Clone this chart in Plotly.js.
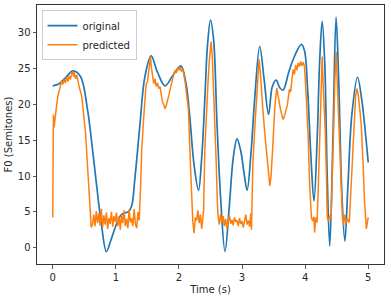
<!DOCTYPE html>
<html>
<head>
<meta charset="utf-8">
<script src="https://cdn.plot.ly/plotly-3.0.1.min.js"></script>
<style>html,body{margin:0;padding:0;background:#fff;}#chart{width:391px;height:298px;}</style>
</head>
<body>
<div id="chart"></div>
<script>
// Original F0 contour (smooth)
const originalTime = [0.00,0.10,0.20,0.32,0.44,0.55,0.63,0.70,0.77,0.85,0.92,0.99,1.06,1.12,1.20,1.25,1.30,1.38,1.46,1.56,1.66,1.78,1.90,2.03,2.11,2.17,2.24,2.31,2.36,2.41,2.45,2.50,2.55,2.60,2.66,2.73,2.80,2.86,2.92,2.98,3.03,3.08,3.14,3.20,3.28,3.35,3.42,3.48,3.54,3.60,3.65,3.74,3.83,3.94,3.99,4.04,4.09,4.14,4.19,4.23,4.27,4.31,4.35,4.39,4.44,4.49,4.53,4.58,4.63,4.68,4.74,4.83,4.90,4.95,5.00];
const originalF0 = [22.6,22.9,23.7,24.7,23.9,19.3,13.7,8.3,3.3,-0.56,1.0,2.8,4.3,4.8,5.0,5.8,9.5,17.0,23.9,26.8,24.5,22.6,24.0,25.4,23.0,18.4,11.5,8.0,12.5,20.7,28.0,31.8,29.0,18.0,7.0,-0.56,6.0,12.5,15.2,13.5,10.5,8.0,13.0,20.7,28.1,23.5,18.6,22.5,23.4,22.3,22.0,24.5,26.7,28.4,27.5,22.0,13.0,6.5,15.0,26.0,31.6,26.0,10.0,0.2,15.0,32.2,24.0,8.0,0.9,9.0,18.5,23.8,20.5,16.5,11.9];

// Predicted F0 contour (noisy)
const predictedTime = [0.00,0.01,0.02,0.03,0.04,0.06,0.08,0.10,0.12,0.14,0.16,0.18,0.20,0.22,0.24,0.26,0.28,0.30,0.32,0.33,0.34,0.36,0.38,0.40,0.42,0.44,0.46,0.49,0.52,0.55,0.57,0.60,0.61,0.63,0.65,0.67,0.69,0.71,0.73,0.75,0.77,0.79,0.81,0.83,0.85,0.87,0.89,0.91,0.93,0.95,0.97,0.99,1.01,1.03,1.05,1.07,1.09,1.11,1.13,1.15,1.17,1.19,1.21,1.23,1.25,1.27,1.29,1.31,1.33,1.35,1.37,1.39,1.41,1.44,1.46,1.48,1.50,1.52,1.54,1.55,1.56,1.58,1.60,1.62,1.64,1.66,1.68,1.70,1.72,1.74,1.76,1.78,1.80,1.82,1.84,1.86,1.88,1.90,1.92,1.94,1.96,1.98,2.00,2.02,2.04,2.06,2.08,2.10,2.12,2.15,2.18,2.20,2.22,2.24,2.26,2.28,2.30,2.32,2.34,2.36,2.38,2.39,2.41,2.43,2.46,2.48,2.50,2.51,2.53,2.55,2.57,2.59,2.61,2.62,2.64,2.66,2.68,2.70,2.72,2.74,2.76,2.78,2.80,2.82,2.84,2.86,2.88,2.90,2.92,2.94,2.96,2.98,3.00,3.02,3.04,3.06,3.08,3.10,3.12,3.14,3.15,3.17,3.20,3.23,3.25,3.27,3.29,3.31,3.33,3.36,3.39,3.42,3.44,3.46,3.49,3.52,3.55,3.57,3.59,3.61,3.63,3.65,3.67,3.70,3.72,3.75,3.77,3.79,3.81,3.83,3.85,3.87,3.89,3.91,3.93,3.95,3.97,3.99,4.01,4.02,4.05,4.07,4.10,4.12,4.14,4.15,4.17,4.19,4.21,4.23,4.25,4.27,4.29,4.32,4.34,4.35,4.37,4.39,4.41,4.43,4.45,4.47,4.49,4.51,4.54,4.56,4.59,4.61,4.63,4.65,4.67,4.70,4.72,4.75,4.78,4.80,4.82,4.84,4.87,4.89,4.92,4.94,4.97,4.99,5.00];
const predictedF0 = [4.2,18.6,16.8,17.5,18.6,19.8,21.1,22.0,22.5,23.3,22.8,23.5,23.0,23.8,23.2,24.0,23.5,24.3,24.6,23.9,24.5,23.6,24.1,23.0,22.4,21.8,21.1,18.5,16.0,11.5,8.6,4.9,2.8,3.2,4.6,3.0,5.1,3.4,4.8,3.1,5.4,2.8,4.5,3.2,4.9,2.6,4.1,3.3,5.0,2.9,4.4,3.6,4.9,3.0,4.3,2.5,4.6,3.4,5.2,3.0,4.0,2.7,5.3,3.5,4.1,3.0,5.4,3.3,2.7,5.0,3.8,8.0,13.7,18.0,20.7,22.8,23.2,24.5,25.8,26.7,25.4,24.0,22.9,23.6,22.5,23.0,22.2,22.5,21.5,20.3,20.0,19.4,19.9,20.5,21.3,22.1,23.0,23.8,24.3,24.8,24.4,25.1,24.8,25.2,24.6,25.0,24.2,23.0,21.5,19.3,12.0,6.7,3.6,2.0,4.2,3.8,5.2,3.4,4.6,2.6,4.0,5.0,13.7,18.5,23.0,26.0,28.3,28.8,26.5,22.0,18.4,12.0,6.0,4.4,3.2,4.7,3.5,4.4,3.0,4.0,2.6,3.8,4.5,3.3,3.9,3.1,4.2,3.6,3.8,3.0,4.1,3.3,3.7,2.8,3.9,4.6,3.2,3.8,2.9,4.8,2.5,11.4,16.5,20.7,24.0,26.3,24.5,21.5,19.3,16.0,13.7,10.5,8.6,10.0,14.6,19.7,22.3,21.0,20.3,19.3,18.5,17.9,18.3,19.3,20.0,22.1,21.7,23.4,24.9,24.2,25.5,24.8,25.8,25.3,26.0,25.4,25.9,25.3,22.5,20.7,15.0,9.1,4.2,3.7,4.3,2.1,4.2,3.5,9.0,16.0,22.5,26.7,22.0,16.0,9.0,4.4,3.6,4.5,3.9,9.0,16.0,23.0,27.4,23.0,16.0,10.0,4.4,3.1,4.6,3.4,4.0,3.5,7.0,13.7,18.5,21.1,22.2,21.5,19.0,17.0,11.5,6.7,2.6,3.8,4.2];

const xTicks = [0,1,2,3,4,5];
const yTicks = [0,5,10,15,20,25,30];

const font = {family: 'DejaVu Sans', size: 10, color: '#262626'};

const traces = [
  {x: originalTime, y: originalF0, type: 'scatter', mode: 'lines', name: 'original',
   line: {color: '#1f77b4', width: 1.7, shape: 'spline', smoothing: 1}},
  {x: predictedTime, y: predictedF0, type: 'scatter', mode: 'lines', name: 'predicted',
   line: {color: '#ff7f0e', width: 1.5}}
];

const axisCommon = {
  showline: true, mirror: true, linecolor: '#333', linewidth: 1,
  ticks: 'outside', ticklen: 3.5, tickwidth: 0.8, tickcolor: '#333',
  showgrid: false, zeroline: false, tickfont: font
};

const layout = {
  width: 391, height: 298,
  margin: {l: 37, r: 7, t: 5, b: 34},
  paper_bgcolor: '#fff', plot_bgcolor: '#fff',
  font: font,
  showlegend: true,
  legend: {x: 0.013, y: 0.98, xanchor: 'left', yanchor: 'top',
    bgcolor: 'rgba(255,255,255,0.8)', bordercolor: '#ccc', borderwidth: 1,
    font: {family: 'DejaVu Sans', size: 10, color: '#262626'}, tracegroupgap: 0},
  xaxis: Object.assign({}, axisCommon, {
    range: [-0.25, 5.25], tickvals: xTicks, ticktext: xTicks.map(String),
    title: {text: 'Time (s)', font: font, standoff: 4}
  }),
  yaxis: Object.assign({}, axisCommon, {
    range: [-2.3, 33.9], tickvals: yTicks, ticktext: yTicks.map(String),
    title: {text: 'F0 (Semitones)', font: font, standoff: 3}
  })
};

Plotly.newPlot('chart', traces, layout, {displayModeBar: false, staticPlot: true});
</script>
</body>
</html>
